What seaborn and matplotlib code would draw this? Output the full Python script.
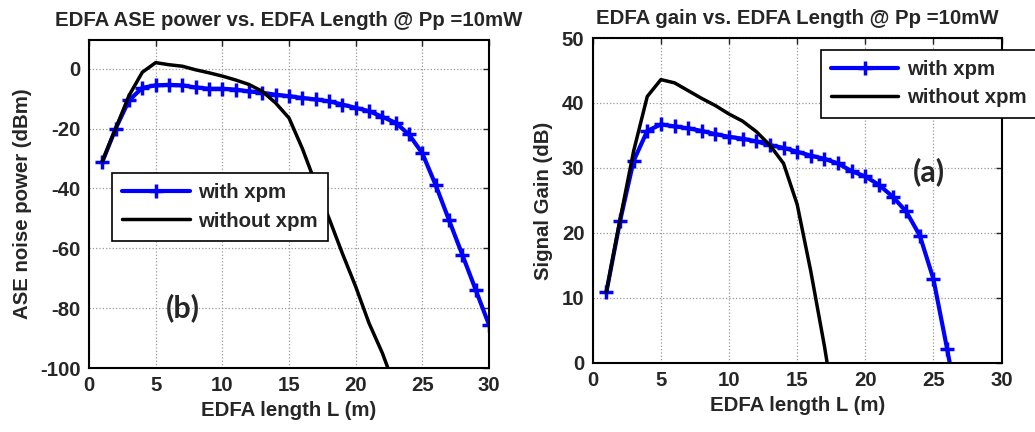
import matplotlib
matplotlib.use("Agg")
import matplotlib.pyplot as plt
import seaborn as sns
import pandas as pd

# EDFA length (m)
length_ase = list(range(1, 31))
length_ase_nx = list(range(1, 24))
length_gain = list(range(1, 28))
length_gain_nx = list(range(1, 19))

# ASE noise power (dBm)
ase_with_xpm = [-31.1, -20.0, -10.6, -6.4, -5.6, -5.4, -5.6, -6.3, -6.7, -6.7,
                -7.0, -7.6, -8.1, -8.7, -9.2, -9.8, -10.3, -10.9, -12.0, -13.1,
                -14.2, -16.1, -18.1, -22.0, -28.3, -38.9, -50.6, -62.2, -73.9, -85.6]
ase_without_xpm = [-31.0, -20.0, -9.0, -1.2, 2.0, 1.3, 0.8, -0.4, -1.4, -2.5,
                   -3.8, -5.3, -7.6, -11.5, -16.5, -26.7, -38.5, -50.0, -61.7, -72.8,
                   -85.0, -95.0, -107.0]

# signal gain (dB)
gain_with_xpm = [10.9, 21.8, 31.1, 35.7, 36.7, 36.4, 36.1, 35.7, 35.2, 34.8,
                 34.5, 34.1, 33.5, 33.1, 32.5, 31.9, 31.4, 30.7, 29.5, 28.7,
                 27.4, 25.6, 23.3, 19.6, 12.9, 2.2, -9.0]
gain_without_xpm = [10.9, 22.0, 32.6, 41.0, 43.6, 43.1, 41.9, 40.7, 39.6, 38.3,
                    37.2, 35.6, 33.5, 30.7, 24.4, 14.1, 2.6, -10.4]

sns.set_style("white")
plt.rcParams['font.family'] = ['Liberation Sans', 'DejaVu Sans']
plt.rcParams['font.weight'] = 'bold'
plt.rcParams['axes.labelweight'] = 'bold'
plt.rcParams['axes.unicode_minus'] = False

FS = 14.7

fig = plt.figure(figsize=(10.35, 4.32), dpi=100)
ax1 = fig.add_axes([0.086, 0.148, 0.3865, 0.759])
ax2 = fig.add_axes([0.5727, 0.160, 0.395, 0.752])


def style_axes(ax):
    ax.grid(True, linestyle=':', color='#999999', linewidth=0.9)
    ax.tick_params(direction='in', top=True, right=True, length=4,
                   width=1, labelsize=FS, pad=6)
    for s in ax.spines.values():
        s.set_linewidth(1.5)
        s.set_color('black')
    for lab in ax.get_xticklabels() + ax.get_yticklabels():
        lab.set_fontweight('bold')


def add_legend(ax, anchor):
    leg = ax.legend(loc='upper left', bbox_to_anchor=anchor, fontsize=FS,
                    fancybox=False, edgecolor='black', framealpha=1,
                    borderaxespad=0, handlelength=3.3, handletextpad=0.4,
                    borderpad=0.5, labelspacing=0.45)
    leg.get_frame().set_linewidth(1.2)
    return leg


blue_style = dict(color='blue', linewidth=3, marker='+', markersize=10,
                  markeredgewidth=2.5, markeredgecolor='blue', label='with xpm')
black_style = dict(color='black', linewidth=2.5, label='without xpm')

# left panel: ASE power
sns.lineplot(x=length_ase, y=ase_with_xpm, ax=ax1, **blue_style)
sns.lineplot(x=length_ase_nx, y=ase_without_xpm, ax=ax1, **black_style)
ax1.set_xlim(0, 30)
ax1.set_ylim(-100, 9.5)
ax1.set_xticks(range(0, 31, 5))
ax1.set_yticks(range(-100, 1, 20))
ax1.set_title('EDFA ASE power vs. EDFA Length @ Pp =10mW', fontsize=FS,
              fontweight='bold', pad=10)
ax1.set_xlabel('EDFA length L (m)', fontsize=FS, labelpad=4)
ax1.set_ylabel('ASE noise power (dBm)', fontsize=FS, labelpad=6)
style_axes(ax1)
add_legend(ax1, (0.0575, 0.5945))
ax1.text(7.05, -80, '(b)', fontsize=22, fontweight='bold', family='Lato',
         ha='center', va='center')

# right panel: signal gain
sns.lineplot(x=length_gain, y=gain_with_xpm, ax=ax2, **blue_style)
sns.lineplot(x=length_gain_nx, y=gain_without_xpm, ax=ax2, **black_style)
ax2.set_xlim(0, 30)
ax2.set_ylim(0, 50)
ax2.set_xticks(range(0, 31, 5))
ax2.set_yticks(range(0, 51, 10))
ax2.set_title('EDFA gain vs. EDFA Length @ Pp =10mW', fontsize=FS,
              fontweight='bold', pad=10)
ax2.set_xlabel('EDFA length L (m)', fontsize=FS, labelpad=4)
ax2.set_ylabel('Signal Gain (dB)', fontsize=FS, labelpad=6)
style_axes(ax2)
add_legend(ax2, (0.558, 0.963))
ax2.text(24.7, 29.5, '(a)', fontsize=22, fontweight='bold', family='Lato',
         ha='center', va='center')

fig.savefig('out.png', dpi=100)
